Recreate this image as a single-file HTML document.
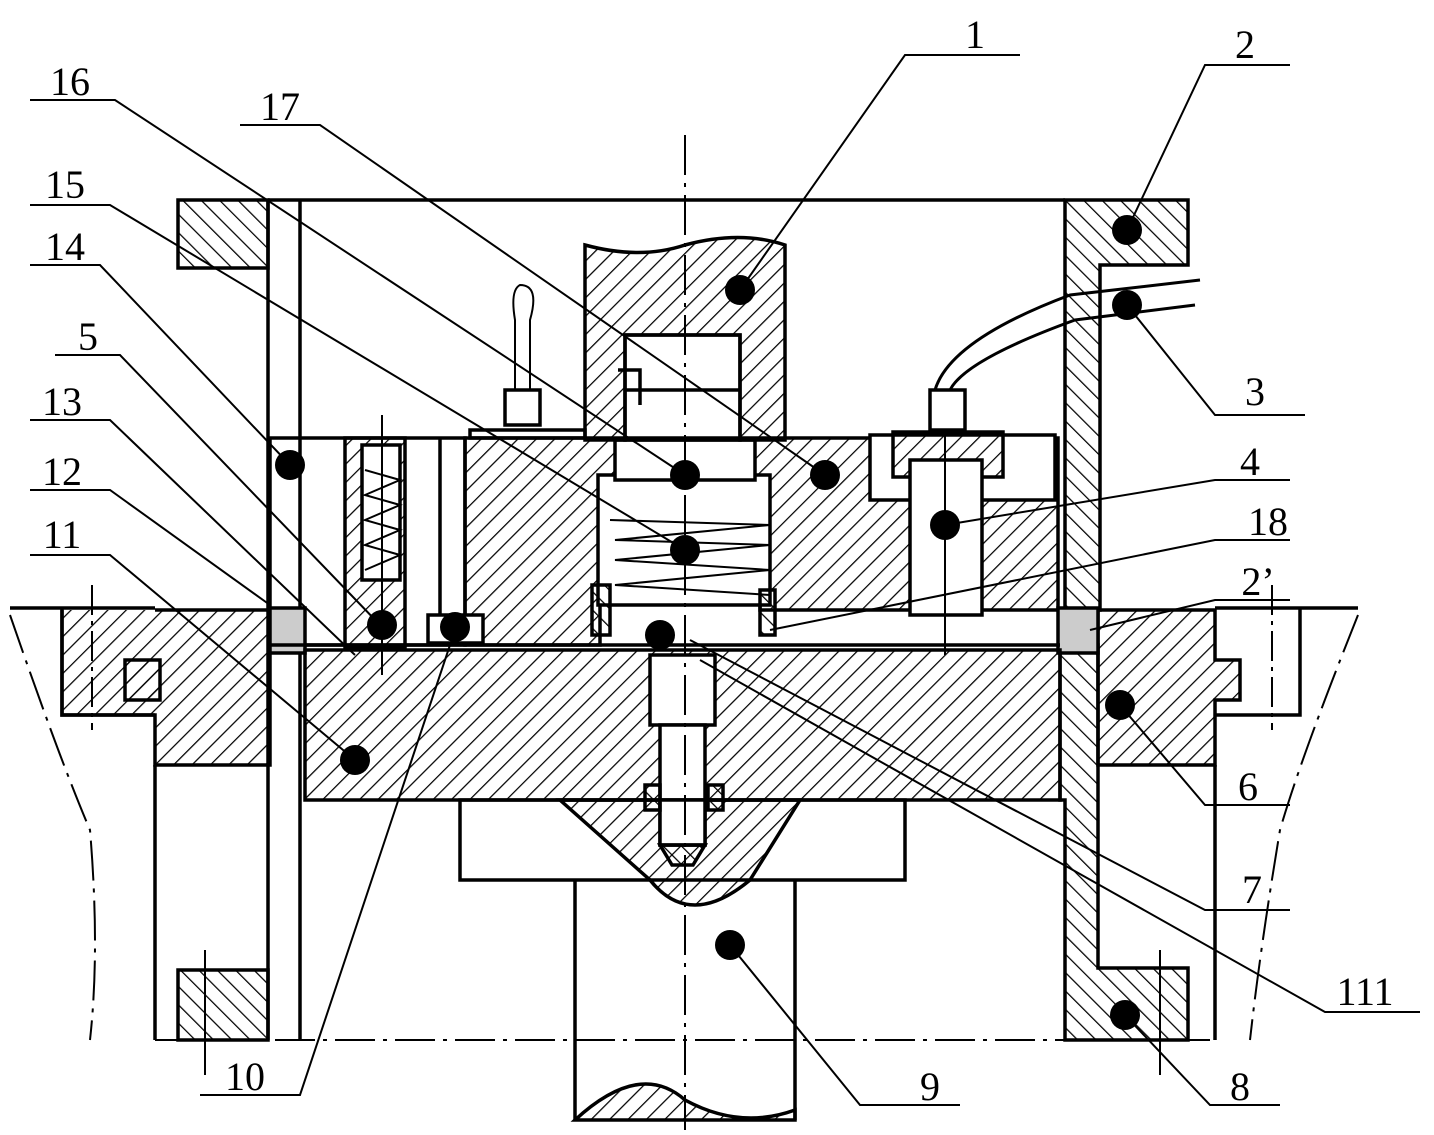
<!DOCTYPE html>
<html><head><meta charset="utf-8"><style>html,body{margin:0;padding:0;background:#fff}svg{display:block}</style></head>
<body>
<svg width="1434" height="1135" viewBox="0 0 1434 1135" xmlns="http://www.w3.org/2000/svg">
<defs>
<pattern id="h" patternUnits="userSpaceOnUse" width="13" height="13" patternTransform="rotate(45)">
<line x1="0" y1="0" x2="0" y2="13" stroke="#000" stroke-width="2.5"/></pattern>
<pattern id="h2" patternUnits="userSpaceOnUse" width="13" height="13" patternTransform="rotate(-45)">
<line x1="0" y1="0" x2="0" y2="13" stroke="#000" stroke-width="2.5"/></pattern>
</defs>
<g stroke="#000" stroke-width="3.5" fill="none">
<line x1="268" y1="200" x2="1065" y2="200"/>
<line x1="268" y1="200" x2="268" y2="1040"/>
<line x1="300" y1="200" x2="300" y2="1040"/>
<rect x="178" y="200" width="90" height="68" fill="url(#h2)"/>
<path d="M1065 200 H1188 V265 H1100 V610 H1065 Z" fill="url(#h2)"/>
<path d="M1060 645 H1098 V968 H1188 V1040 H1065 V800 H1060 Z" fill="url(#h2)"/>
<rect x="178" y="970" width="90" height="70" fill="url(#h2)"/>
<line x1="155" y1="1040" x2="1210" y2="1040" stroke-dasharray="40 8 4 8" stroke-width="2"/>
<path d="M155 610 H270 V765 H155 V715 H62 V610" fill="url(#h)"/>
<rect x="125" y="660" width="35" height="40" fill="url(#h)"/>
<path d="M1098 610 H1215 V660 H1240 V700 H1215 V765 H1098 Z" fill="url(#h)"/>
<path d="M10 608 H155 M1215 608 H1358 M62 608 V715 H155 M1300 608 V715 H1215"/>
<line x1="155" y1="765" x2="155" y2="1040"/>
<line x1="1215" y1="765" x2="1215" y2="1040"/>
<path d="M10 615 Q60 760 90 830 Q100 950 90 1040" stroke-dasharray="40 8 4 8" stroke-width="2"/>
<path d="M1358 615 Q1300 760 1280 830 Q1260 950 1250 1040" stroke-dasharray="40 8 4 8" stroke-width="2"/>
<line x1="92" y1="585" x2="92" y2="730" stroke-dasharray="30 6 4 6" stroke-width="2"/>
<line x1="1272" y1="585" x2="1272" y2="730" stroke-dasharray="30 6 4 6" stroke-width="2"/>
<line x1="205" y1="950" x2="205" y2="1075" stroke-width="2"/>
<line x1="1160" y1="950" x2="1160" y2="1075" stroke-width="2"/>
<path d="M465 438 H1058 V610 H760 V600 H600 V645 H465 Z" fill="url(#h)"/>
<path d="M270 438 H465 V645 H270 Z"/>
<rect x="345" y="438" width="60" height="210" fill="url(#h)"/>
<rect x="362" y="445" width="38" height="135" fill="#fff"/>
<line x1="440" y1="438" x2="440" y2="645"/>
<rect x="870" y="435" width="185" height="65" fill="#fff"/>
<rect x="893" y="432" width="110" height="45" fill="url(#h)"/>
<rect x="910" y="460" width="72" height="155" fill="#fff"/>
<rect x="598" y="475" width="172" height="130" fill="#fff"/>
<rect x="615" y="440" width="140" height="40" fill="#fff"/>
<path d="M618 370 L640 370 L640 405 M625 390 H740"/>
<path d="M610 520 L770 525 L615 540 L770 545 L615 560 L770 570 L615 585 L770 595" stroke-width="2"/>
<path d="M365 470 L400 480 L365 495 L400 505 L365 520 L400 530 L365 545 L400 555 L365 570" stroke-width="2"/>
<path d="M585 245 Q640 260 685 245 Q740 230 785 245 V440 H740 V335 H625 V440 H585 Z" fill="url(#h)"/>
<rect x="625" y="335" width="115" height="105"/>
<rect x="505" y="390" width="35" height="35"/>
<path d="M515 390 V320 Q510 290 520 285 Q540 285 530 320 V390" stroke-width="2"/>
<rect x="470" y="430" width="115" height="8"/>
<rect x="930" y="390" width="35" height="40"/>
<path d="M935 390 Q950 340 1070 295 L1200 280 M950 390 Q965 360 1075 320 L1195 305" stroke-width="3"/>
<rect x="270" y="608" width="35" height="45" fill="#ccc"/>
<rect x="1058" y="608" width="40" height="45" fill="#ccc"/>
<rect x="428" y="615" width="55" height="28" fill="#fff"/>
<rect x="592" y="585" width="18" height="50" fill="url(#h2)"/>
<rect x="760" y="590" width="15" height="45" fill="url(#h2)"/>
<line x1="270" y1="645" x2="1060" y2="645"/>
<rect x="305" y="650" width="755" height="150" fill="url(#h)"/>
<rect x="650" y="655" width="65" height="70" fill="#fff"/>
<rect x="660" y="725" width="45" height="120" fill="#fff"/>
<rect x="460" y="800" width="445" height="80"/>
<path d="M560 800 H800 L750 880 Q690 930 650 880 Z" fill="url(#h)"/>
<rect x="660" y="800" width="45" height="45" fill="#fff"/>
<path d="M660 845 L672 865 H693 L705 845 Z" fill="url(#h2)"/>
<rect x="645" y="785" width="15" height="25" fill="url(#h2)"/>
<rect x="708" y="785" width="15" height="25" fill="url(#h2)"/>
<path d="M575 880 V1120 M795 880 V1120"/>
<path d="M575 1120 Q640 1060 685 1100 Q740 1130 795 1110 V1120 H575 Z" fill="url(#h)"/>
<line x1="685" y1="135" x2="685" y2="1130" stroke-dasharray="40 8 4 8" stroke-width="2"/>
<line x1="945" y1="430" x2="945" y2="655" stroke-width="2"/>
<line x1="382" y1="415" x2="382" y2="675" stroke-width="2"/>
</g>
<g stroke="#000" stroke-width="2" fill="none">
<path d="M1020 55 H905 L740 290"/>
<path d="M1290 65 H1205 L1127 230"/>
<path d="M30 100 H115 L685 475"/>
<path d="M240 125 H320 L825 475"/>
<path d="M30 205 H110 L685 550"/>
<path d="M30 265 H100 L290 465"/>
<path d="M55 355 H120 L380 625"/>
<path d="M30 420 H110 L355 655"/>
<path d="M30 490 H110 L270 605"/>
<path d="M30 555 H110 L355 760"/>
<path d="M1305 415 H1215 L1127 305"/>
<path d="M1290 480 H1215 L945 525"/>
<path d="M1290 540 H1215 L770 630"/>
<path d="M1290 600 H1215 L1090 630"/>
<path d="M1290 805 H1205 L1120 705"/>
<path d="M1290 910 H1205 L690 640"/>
<path d="M1420 1012 H1325 L700 660"/>
<path d="M1280 1105 H1210 L1125 1015"/>
<path d="M960 1105 H860 L730 945"/>
<path d="M200 1095 H300 L455 630"/>
</g>
<g fill="#000">
<circle cx="1127" cy="230" r="15"/><circle cx="1127" cy="305" r="15"/><circle cx="740" cy="290" r="15"/>
<circle cx="685" cy="475" r="15"/><circle cx="825" cy="475" r="15"/><circle cx="685" cy="550" r="15"/>
<circle cx="290" cy="465" r="15"/><circle cx="382" cy="625" r="15"/><circle cx="455" cy="627" r="15"/>
<circle cx="660" cy="635" r="15"/><circle cx="945" cy="525" r="15"/><circle cx="1120" cy="705" r="15"/>
<circle cx="355" cy="760" r="15"/><circle cx="730" cy="945" r="15"/><circle cx="1125" cy="1015" r="15"/>
</g>
<g font-family="Liberation Serif, serif" font-size="40" fill="#000" text-anchor="middle">
<text x="975" y="48">1</text><text x="1245" y="58">2</text>
<text x="70" y="95">16</text><text x="280" y="120">17</text>
<text x="65" y="198">15</text><text x="65" y="260">14</text><text x="88" y="350">5</text>
<text x="62" y="415">13</text><text x="62" y="485">12</text><text x="62" y="548">11</text>
<text x="1255" y="405">3</text><text x="1250" y="475">4</text><text x="1268" y="535">18</text>
<text x="1258" y="595">2’</text><text x="1248" y="800">6</text><text x="1252" y="903">7</text>
<text x="1365" y="1005">111</text><text x="1240" y="1100">8</text><text x="930" y="1100">9</text>
<text x="245" y="1090">10</text>
</g>
</svg>
</body></html>
